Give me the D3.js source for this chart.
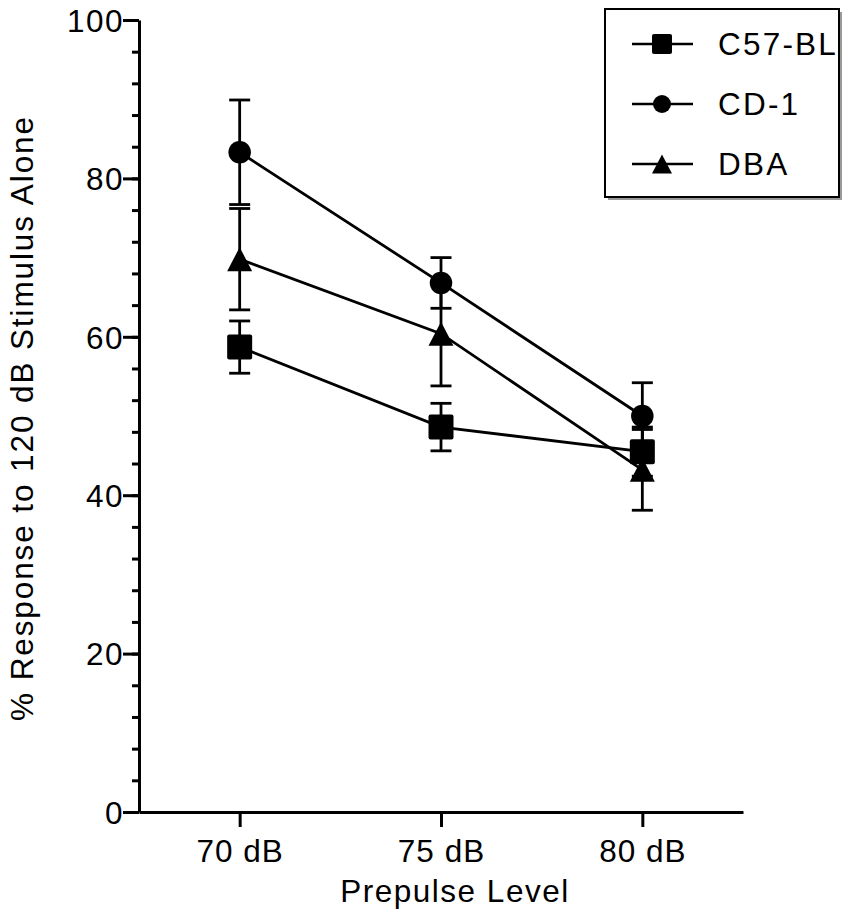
<!DOCTYPE html>
<html>
<head>
<meta charset="utf-8">
<script src="https://cdn.jsdelivr.net/npm/d3@7"></script>
<style>
  body { margin: 0; background: #fff; }
  svg { font-family: "Liberation Sans", Arial, sans-serif; }
</style>
</head>
<body>
<div id="chart"></div>
<script>
// categories and series (mean, SEM)
var levels = ["70 dB", "75 dB", "80 dB"];
var seriesNames = ["C57-BL", "CD-1", "DBA"];
var c57Mean = [58.7, 48.6, 45.5];
var c57Err = [3.3, 3.0, 3.1];
var cd1Mean = [83.3, 66.8, 50.0];
var cd1Err = [6.6, 3.2, 4.2];
var dbaMean = [69.8, 60.4, 43.2];
var dbaErr = [6.4, 6.6, 5.1];
var yMajor = [0, 20, 40, 60, 80, 100];

var W = 844, H = 914;
var fs = 31.5;

var svg = d3.select("#chart").append("svg")
    .attr("width", W)
    .attr("height", H);

var x = d3.scalePoint().domain(levels).range([139, 743]).padding(0.5);
var y = d3.scaleLinear().domain([0, 100]).range([812, 20]);

//build the series list
var series = [
  { name: "C57-BL", shape: "square", mean: c57Mean, err: c57Err },
  { name: "CD-1", shape: "circle", mean: cd1Mean, err: cd1Err },
  { name: "DBA", shape: "triangle", mean: dbaMean, err: dbaErr }
];
series.forEach(function(s) {
  s.points = levels.map(function(l, i) {
    return { level: l, value: s.mean[i], err: s.err[i] };
  });
});

//minor y ticks
svg.append("g")
    .attr("transform", "translate(139,0)")
    .call(d3.axisLeft(y).tickValues(d3.range(0, 101, 4)).tickSize(7).tickFormat(""))
    .call(function(g) { g.select(".domain").remove(); })
    .selectAll("line").attr("stroke-width", 3);

//major y ticks
var yAxis = svg.append("g")
    .attr("transform", "translate(139,0)")
    .call(d3.axisLeft(y).tickValues(yMajor).tickSize(16).tickSizeOuter(0).tickPadding(-1));
yAxis.select(".domain").attr("stroke-width", 3);
yAxis.selectAll("line").attr("stroke-width", 3);
yAxis.selectAll("text")
    .attr("font-size", fs)
    .attr("font-family", "Liberation Sans, Arial, sans-serif")
    .attr("letter-spacing", 1.5)
    .attr("fill", "#000")
    .attr("dy", "0.36em");

//x axis
var xAxis = svg.append("g")
    .attr("transform", "translate(0,812)")
    .call(d3.axisBottom(x).tickSize(15).tickSizeOuter(0).tickPadding(4));
xAxis.select(".domain").attr("stroke-width", 3);
xAxis.selectAll("line").attr("stroke-width", 3);
xAxis.selectAll("text")
    .attr("font-size", fs)
    .attr("font-family", "Liberation Sans, Arial, sans-serif")
    .attr("letter-spacing", 1)
    .attr("fill", "#000")
    .attr("dy", "0.97em");

//axis titles
svg.append("text")
    .attr("x", 455)
    .attr("y", 902)
    .attr("text-anchor", "middle")
    .attr("font-size", fs)
    .attr("letter-spacing", 1.5)
    .text("Prepulse Level");

svg.append("text")
    .attr("transform", "translate(33,418) rotate(-90)")
    .attr("text-anchor", "middle")
    .attr("font-size", fs)
    .attr("letter-spacing", 1.9)
    .text("% Response to 120 dB Stimulus Alone");

var line = d3.line()
    .x(function(d) { return x(d.level); })
    .y(function(d) { return y(d.value); });

//lines
svg.selectAll(".series-line")
    .data(series)
    .enter().append("path")
      .attr("class", "series-line")
      .attr("d", function(d) { return line(d.points); })
      .attr("fill", "none")
      .attr("stroke", "#000")
      .attr("stroke-width", 2.8);

//error bars
var capW = 10.5;
series.forEach(function(s) {
  var g = svg.append("g").attr("stroke", "#000").attr("stroke-width", 2.8);
  s.points.forEach(function(p) {
    var cx = x(p.level);
    g.append("line")
        .attr("x1", cx).attr("x2", cx)
        .attr("y1", y(p.value + p.err)).attr("y2", y(p.value - p.err));
    [p.value + p.err, p.value - p.err].forEach(function(v) {
      g.append("line")
          .attr("x1", cx - capW).attr("x2", cx + capW)
          .attr("y1", y(v)).attr("y2", y(v));
    });
  });
});

//marker drawing
function drawMarker(g, shape, cx, cy, size) {
  if (shape === "square") {
    g.append("rect")
        .attr("x", cx - size / 2).attr("y", cy - size / 2)
        .attr("width", size).attr("height", size)
        .attr("rx", 2)
        .attr("fill", "#000");
  } else if (shape === "circle") {
    g.append("circle")
        .attr("cx", cx).attr("cy", cy)
        .attr("r", size * 0.45)
        .attr("fill", "#000");
  } else {
    var h = size * 0.96, w = size;
    g.append("path")
        .attr("d", "M" + cx + "," + (cy - h / 2) +
                   "L" + (cx + w / 2) + "," + (cy + h / 2) +
                   "L" + (cx - w / 2) + "," + (cy + h / 2) + "Z")
        .attr("fill", "#000");
  }
}

//markers, DBA under the others
[series[2], series[1], series[0]].forEach(function(s) {
  var g = svg.append("g");
  s.points.forEach(function(p) {
    drawMarker(g, s.shape, x(p.level), y(p.value), 25);
  });
});

//legend
var legend = svg.append("g");
legend.append("rect")
    .attr("x", 608).attr("y", 12)
    .attr("width", 234).attr("height", 188)
    .attr("fill", "#999");
legend.append("rect")
    .attr("x", 605).attr("y", 9)
    .attr("width", 234).attr("height", 188)
    .attr("fill", "#fff")
    .attr("stroke", "#000")
    .attr("stroke-width", 2);

var legendY = d3.scalePoint().domain(seriesNames).range([44, 164]);
series.forEach(function(s) {
  var ly = legendY(s.name);
  legend.append("line")
      .attr("x1", 632).attr("x2", 693)
      .attr("y1", ly).attr("y2", ly)
      .attr("stroke", "#000")
      .attr("stroke-width", 2.5);
  drawMarker(legend, s.shape, 662, ly, 20);
  legend.append("text")
      .attr("x", 718)
      .attr("y", ly)
      .attr("dy", "0.36em")
      .attr("font-size", fs)
      .attr("letter-spacing", 2.2)
      .text(s.name);
});
</script>
</body>
</html>
